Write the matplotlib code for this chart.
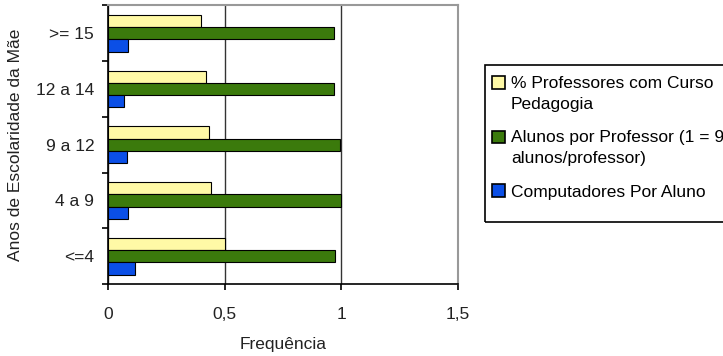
import matplotlib.pyplot as plt
from matplotlib.patches import Rectangle
import numpy as np

plt.rcParams['font.family'] = ['Liberation Sans', 'DejaVu Sans']

# categories from bottom to top
cats = ['<=4', '4 a 9', '9 a 12', '12 a 14', '>= 15']
prof_pedag = [0.502, 0.443, 0.434, 0.420, 0.398]   # % Professores com Curso Pedagogia
alunos_prof = [0.974, 1.0, 0.995, 0.968, 0.968]    # Alunos por Professor
comp_aluno = [0.115, 0.087, 0.081, 0.069, 0.087]   # Computadores Por Aluno

labels = ['% Professores com Curso\nPedagogia',
          'Alunos por Professor (1 = 9\nalunos/professor)',
          'Computadores Por Aluno']
cols = ['#FFF9A6', '#3B7A0C', '#0B4FE6']
fs = 12.5
tc = '#222222'

fig = plt.figure(figsize=(7.23, 3.56), dpi=100)
ax = fig.add_axes([0.1494, 0.2022, 0.4834, 0.7824])

y = np.arange(len(cats))
h = 0.22
ax.barh(y + h, prof_pedag, h, color=cols[0], edgecolor='black', lw=0.8, label=labels[0], zorder=3)
ax.barh(y, alunos_prof, h, color=cols[1], edgecolor='black', lw=0.8, label=labels[1], zorder=3)
ax.barh(y - h, comp_aluno, h, color=cols[2], edgecolor='black', lw=0.8, label=labels[2], zorder=3)

ax.set_xlim(0, 1.5)
ax.set_ylim(-0.5, 4.5)
ax.set_xticks([0, 0.5, 1, 1.5])
ax.set_xticklabels(['0', '0,5', '1', '1,5'], fontsize=fs, color=tc)
ax.set_yticks(y)
ax.set_yticklabels(cats, fontsize=fs, color=tc)
ax.set_yticks(np.arange(-0.5, 5, 1), minor=True)
ax.tick_params(axis='y', which='major', length=0, pad=10)
ax.tick_params(axis='y', which='minor', length=4.5, direction='out', width=1.2)
ax.tick_params(axis='x', length=4.5, direction='out', width=1.2, pad=12)

ax.grid(axis='x', color='#333333', lw=1, zorder=1)
ax.spines['left'].set_linewidth(1.2)
ax.spines['bottom'].set_linewidth(1.2)
ax.spines['top'].set_color('#999999')
ax.spines['right'].set_color('#999999')
ax.spines['top'].set_linewidth(1.5)
ax.spines['right'].set_linewidth(1.5)

ax.set_xlabel('Frequência', fontsize=fs, color=tc, labelpad=11)
ax.set_ylabel('Anos de Escolaridade da Mãe', fontsize=fs, color=tc, labelpad=9)

# legend box drawn by hand, runs off the right edge like the original
W, H = 723, 356
fig.patches.append(Rectangle((485 / W, 1 - 222 / H), 300 / W, 157 / H,
                             transform=fig.transFigure, fill=False,
                             edgecolor='black', lw=1.2))
leg = fig.legend(loc='upper left', bbox_to_anchor=(492 / W, 1 - 76 / H), fontsize=fs,
                 frameon=False, handlelength=0.75, handleheight=0.75,
                 handletextpad=0.35, labelspacing=1.05, borderpad=0, borderaxespad=0)
for t in leg.get_texts():
    t.set_linespacing(1.5)
for i, p in enumerate(leg.get_patches()):
    p.set_edgecolor('black')
    p.set_linewidth(1.2)
    if i < 2:
        # square sits on the first line of two-line labels
        p.set_y(p.get_y() + 8)

fig.savefig('out.png', dpi=100)
